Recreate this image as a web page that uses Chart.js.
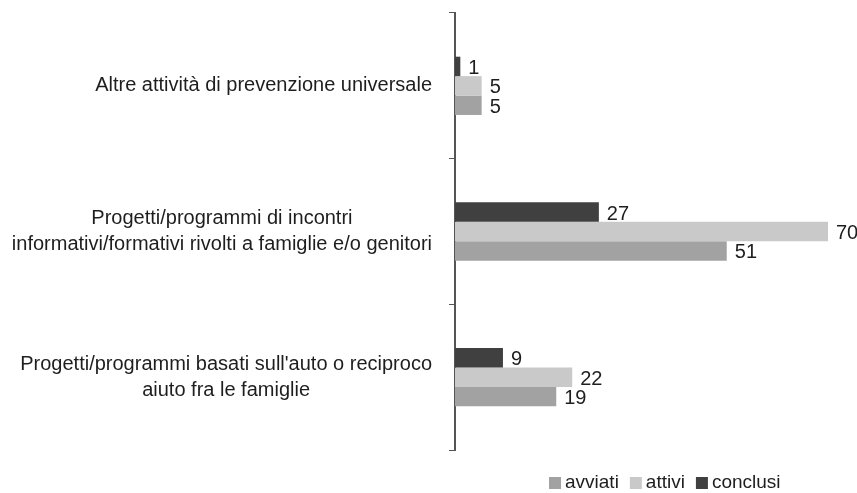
<!DOCTYPE html>
<html>
<head>
<meta charset="utf-8">
<script src="https://cdn.jsdelivr.net/npm/chart.js@4"></script>
<style>
  html, body { margin: 0; padding: 0; background: #fff; }
  #wrap { width: 857px; height: 493px; }
</style>
</head>
<body>
<div id="wrap"><canvas id="chart" width="857" height="493"></canvas></div>
<script>
const categories = [
    ['Altre attività di prevenzione universale'],
    ['Progetti/programmi di incontri', 'informativi/formativi rivolti a famiglie e/o genitori'],
    ["Progetti/programmi basati sull'auto o reciproco", 'aiuto fra le famiglie']
];
const conclusi = [1, 27, 9];
const attivi = [5, 70, 22];
const avviati = [5, 51, 19];

const FONT = '"Liberation Sans", Arial, sans-serif';
const TEXT = '#1e1e1e';

// category labels: each block centred on itself, right edge near the axis
const categoryLabels = {
    id: 'categoryLabels',
    afterDraw(chart) {
        const ctx = chart.ctx;
        const y = chart.scales.y;
        ctx.save();
        ctx.font = '20px ' + FONT;
        ctx.fillStyle = TEXT;
        ctx.textAlign = 'center';
        ctx.textBaseline = 'middle';
        categories.forEach((lines, i) => {
            const w = Math.max(...lines.map(l => ctx.measureText(l).width));
            const cx = 432 - w / 2;
            const cy = y.getPixelForValue(i);
            const lh = 26;
            lines.forEach((l, j) => {
                ctx.fillText(l, cx, cy + (j - (lines.length - 1) / 2) * lh);
            });
        });
        ctx.restore();
    }
};

// value labels at the end of each bar
const valueLabels = {
    id: 'valueLabels',
    afterDatasetsDraw(chart) {
        const ctx = chart.ctx;
        ctx.save();
        ctx.font = '20px ' + FONT;
        ctx.fillStyle = TEXT;
        ctx.textAlign = 'left';
        ctx.textBaseline = 'middle';
        chart.data.datasets.forEach((ds, i) => {
            chart.getDatasetMeta(i).data.forEach((bar, j) => {
                ctx.fillText(ds.data[j], bar.x + 8, bar.y + 2);
            });
        });
        ctx.restore();
    }
};

// legend at bottom right, in reverse dataset order
const bottomLegend = {
    id: 'bottomLegend',
    afterDraw(chart) {
        const ctx = chart.ctx;
        ctx.save();
        ctx.font = '19px ' + FONT;
        ctx.textBaseline = 'middle';
        let x = 549;
        const y = 483;
        chart.data.datasets.slice().reverse().forEach(ds => {
            ctx.fillStyle = ds.backgroundColor;
            ctx.fillRect(x, y - 6, 12, 12);
            ctx.fillStyle = TEXT;
            ctx.fillText(ds.label, x + 16, y);
            x += 16 + ctx.measureText(ds.label).width + 11;
        });
        ctx.restore();
    }
};

new Chart(document.getElementById('chart'), {
    type: 'bar',
    data: {
        labels: categories.map(c => c.join(' ')),
        datasets: [
            { label: 'conclusi', data: conclusi, backgroundColor: '#404040' },
            { label: 'attivi', data: attivi, backgroundColor: '#c9c9c9' },
            { label: 'avviati', data: avviati, backgroundColor: '#a2a2a2' }
        ]
    },
    options: {
        indexAxis: 'y',
        responsive: false,
        animation: false,
        layout: { padding: { left: 0, right: 29, top: 13, bottom: 43 } },
        datasets: {
            bar: { categoryPercentage: 0.4, barPercentage: 1.0 }
        },
        plugins: {
            legend: { display: false },
            tooltip: { enabled: false }
        },
        scales: {
            x: {
                display: false,
                min: 0,
                max: 70
            },
            y: {
                afterFit: function(scale) { scale.width = 455; },
                ticks: { display: false },
                grid: {
                    offset: true,
                    drawOnChartArea: false,
                    tickLength: 6,
                    color: '#555'
                },
                border: { color: '#555', width: 2 }
            }
        }
    },
    plugins: [categoryLabels, valueLabels, bottomLegend]
});
</script>
</body>
</html>
